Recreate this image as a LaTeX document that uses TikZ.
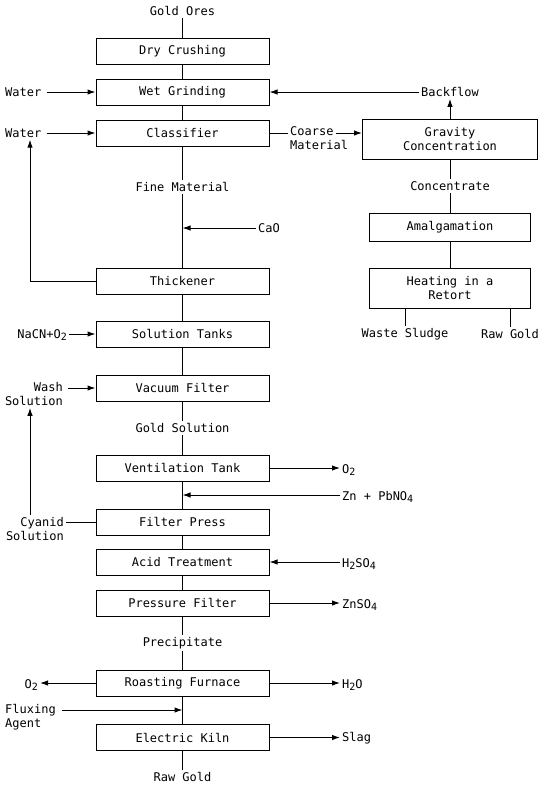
\documentclass[tikz,border=0pt]{standalone}
\usepackage{fontspec}
\setmonofont{DejaVu Sans Mono}
\usetikzlibrary{arrows.meta}
\newcommand\lowsub[1]{\raisebox{-2.5pt}{\fontsize{10}{12}\selectfont #1}}
\begin{document}
\begin{tikzpicture}[x=1pt,y=-1pt,
  every node/.style={font=\ttfamily\fontsize{12}{14}\selectfont},
  box/.style={draw, line width=1pt, minimum width=173pt, minimum height=26pt, inner sep=0pt},
  rbox/.style={draw, line width=1pt, minimum width=161pt, minimum height=28pt, inner sep=0pt, align=center},
  txt/.style={inner sep=2pt},
  ln/.style={line width=1pt},
  arr/.style={line width=1pt, -{Latex[length=8pt,width=5.5pt]}}]
\useasboundingbox (0,0) rectangle (546,788);
% main column
\node[txt] (ores) at (182.5,11) {Gold Ores};
\node[box] (dry) at (182.5,51) {Dry Crushing};
\node[box] (wet) at (182.5,92) {Wet Grinding};
\node[box] (cls) at (182.5,133) {Classifier};
\node[txt] (fine) at (182.5,187) {Fine Material};
\coordinate (cao) at (182.5,228);
\node[txt,anchor=west] (caot) at (256,228) {CaO};
\node[box] (thk) at (182.5,281) {Thickener};
\node[box] (sol) at (182.5,334) {Solution Tanks};
\node[box] (vac) at (182.5,388) {Vacuum Filter};
\node[txt] (gsol) at (182.5,428) {Gold Solution};
\node[box] (ven) at (182.5,468) {Ventilation Tank};
\coordinate (znj) at (182.5,495);
\node[box] (fp) at (182.5,522) {Filter Press};
\node[box] (acid) at (182.5,562) {Acid Treatment};
\node[box] (pf) at (182.5,603) {Pressure Filter};
\node[txt] (prec) at (182.5,643) {Precipitate};
\node[box] (roast) at (182.5,683) {Roasting Furnace};
\coordinate (fluxj) at (182.5,710);
\node[box] (kiln) at (182.5,737.5) {Electric Kiln};
\node[txt] (raw) at (182.5,777) {Raw Gold};
\draw[ln] (ores) -- (dry);
\draw[ln] (dry) -- (wet);
\draw[ln] (wet) -- (cls);
\draw[ln] (cls) -- (fine);
\draw[ln] (fine) -- (thk);
\draw[ln] (thk) -- (sol);
\draw[ln] (sol) -- (vac);
\draw[ln] (vac) -- (gsol);
\draw[ln] (gsol) -- (ven);
\draw[ln] (ven) -- (fp);
\draw[ln] (fp) -- (acid);
\draw[ln] (acid) -- (pf);
\draw[ln] (pf) -- (prec);
\draw[ln] (prec) -- (roast);
\draw[ln] (roast) -- (kiln);
\draw[ln] (kiln) -- (raw);
\draw[arr] (caot.west) -- (cao);
% left side
\node[txt,anchor=west] (w1) at (3,92) {Water};
\node[txt,anchor=west] (w2) at (3,133) {Water};
\draw[arr] (w1.east) ++(3,0) -- (wet.west);
\draw[arr] (w2.east) ++(3,0) -- (cls.west);
\coordinate (loopc) at (30,281);
\draw[arr] (thk.west) -- (loopc) -- (loopc |- w2.south);
\node[txt,anchor=east] (nacn) at (69,335) {NaCN+O\lowsub{2}};
\draw[arr] (nacn.east |- sol.west) -- (sol.west);
\node[txt,anchor=east,align=right] (wash) at (65,394) {Wash\\Solution};
\draw[arr] (wash.east |- vac.west) ++(3,0) -- (vac.west);
\node[txt,anchor=east,align=right] (cy) at (66,529) {Cyanid\\Solution};
\draw[ln] (fp.west) -- (cy.east |- fp.west);
\draw[arr] (cy.north -| loopc) -- (wash.south -| loopc);
\node[txt,anchor=west,align=left] (flux) at (3,717) {Fluxing\\Agent};
\draw[arr] (flux.east |- fluxj) ++(4,0) -- (fluxj);
\node[txt,anchor=east] (o2b) at (40,685) {O\lowsub{2}};
\draw[arr] (roast.west) -- (roast.west -| o2b.east);
% right side of main column
\node[txt,anchor=west] (o2a) at (340,470) {O\lowsub{2}};
\draw[arr] (ven.east) -- (ven.east -| o2a.west);
\node[txt,anchor=west] (zn) at (340,497) {Zn + PbNO\lowsub{4}};
\draw[arr] (zn.west |- znj) -- (znj);
\node[txt,anchor=west] (h2) at (340,564) {H\lowsub{2}SO\lowsub{4}};
\draw[arr] (h2.west |- acid.east) -- (acid.east);
\node[txt,anchor=west] (zn2) at (340,605) {ZnSO\lowsub{4}};
\draw[arr] (pf.east) -- (pf.east -| zn2.west);
\node[txt,anchor=west] (h2o) at (340,685) {H\lowsub{2}O};
\draw[arr] (roast.east) -- (roast.east -| h2o.west);
\node[txt,anchor=west] (slag) at (340,738) {Slag};
\draw[arr] (kiln.east) -- (kiln.east -| slag.west);
% right column
\node[rbox, minimum width=175pt, minimum height=40pt] (grav) at (450,139.5) {Gravity\\Concentration};
\node[txt] (back) at (450,92) {Backflow};
\draw[arr] (grav.north) -- (back.south);
\draw[arr] (back.west) -- (wet.east);
\node[txt,anchor=west] (coarse) at (288,131) {Coarse};
\node[txt,anchor=north west] (mat) at (coarse.south west) {Material};
\draw[ln] (cls.east) -- (cls.east -| coarse.west);
\draw[arr] (coarse.east |- cls.east) -- (grav.west |- cls.east);
\node[txt] (conc) at (450,186) {Concentrate};
\node[rbox] (amal) at (450,227) {Amalgamation};
\node[rbox, minimum height=40pt] (heat) at (450,288) {Heating in a\\Retort};
\draw[ln] (grav) -- (conc);
\draw[ln] (conc) -- (amal);
\draw[ln] (amal) -- (heat);
\node[txt] (waste) at (405,334) {Waste Sludge};
\node[txt] (rawr) at (510,334) {Raw Gold};
\draw[ln] (waste.north) -- (waste.north |- heat.south);
\draw[ln] (rawr.north) -- (rawr.north |- heat.south);
\end{tikzpicture}
\end{document}
